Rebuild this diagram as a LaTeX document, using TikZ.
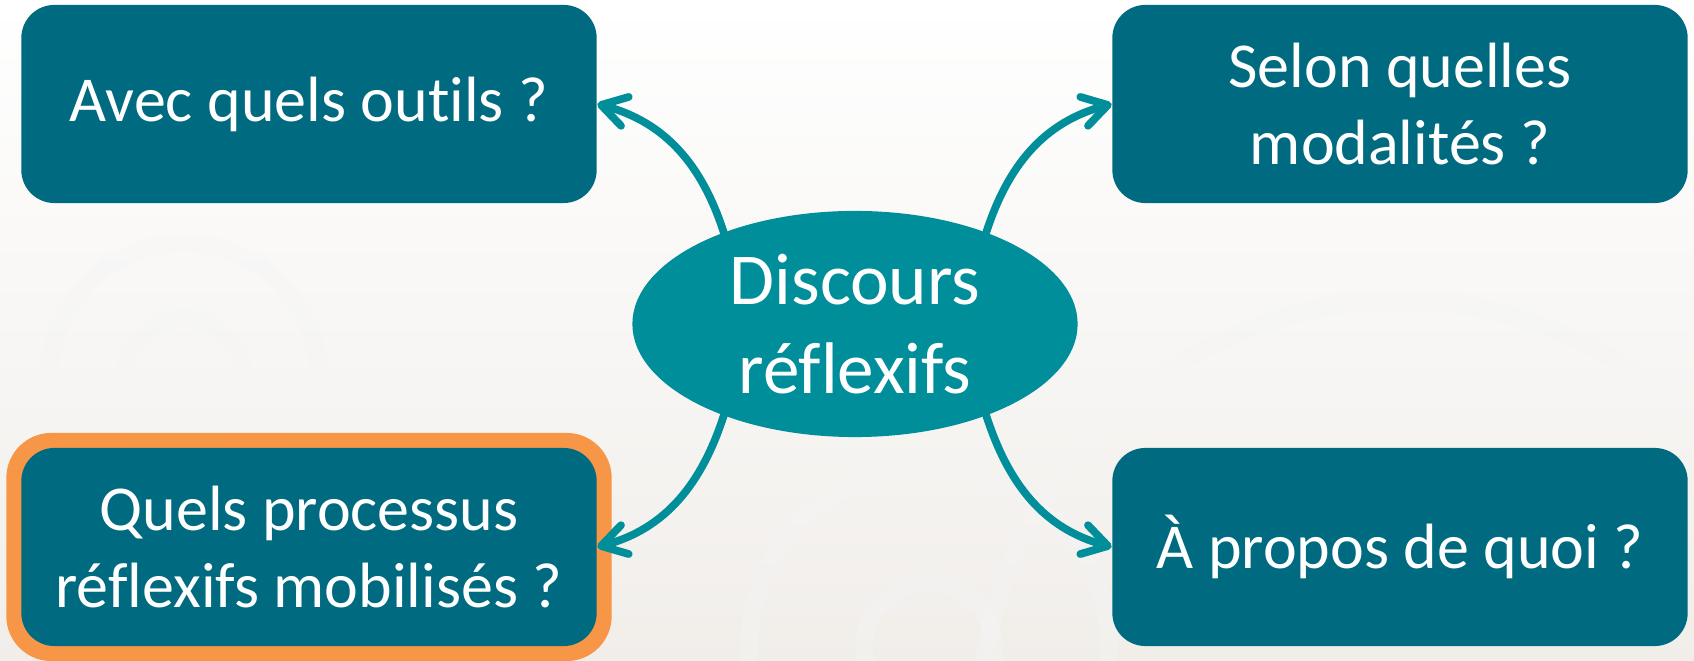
\documentclass[tikz,border=0pt]{standalone}
\usepackage{fontspec}
\setmainfont[Ligatures=NoCommon]{Carlito}
\usetikzlibrary{arrows.meta,shapes.geometric}
\definecolor{boxteal}{HTML}{006B80}
\definecolor{ovalteal}{HTML}{008E9B}
\definecolor{frameorange}{HTML}{F79646}
\definecolor{paper}{HTML}{F1EEEA}
\begin{document}
\begin{tikzpicture}[x=0.01cm, y=0.01cm, line join=round, line cap=round,
  >={Straight Barb[length=7pt,width=8.5pt,round]},
  question/.style={rectangle, rounded corners=0.33cm, fill=boxteal, text=white,
    minimum width=5.75cm, minimum height=1.98cm, inner sep=0pt, align=center,
    font=\fontsize{18.2}{21.9}\selectfont},
  topic/.style={ellipse, fill=ovalteal, text=white, minimum width=4.45cm,
    minimum height=2.26cm, inner sep=0pt, align=center,
    font=\fontsize{20.8}{25.3}\selectfont},
  frame/.style={rectangle, rounded corners=0.45cm, fill=frameorange,
    minimum width=6.05cm, minimum height=2.28cm},
  link/.style={->, draw=ovalteal, line width=2.2pt}]
\useasboundingbox (0,0) rectangle (1694,661);
% background
\shade[top color=white, bottom color=paper] (0,0) rectangle (1694,661);
\begin{scope}
\clip (0,0) rectangle (1694,661);
\foreach \cx/\cy/\r in {184/283/60, 184/283/135, 929/13/65, 929/13/180, 1400/-60/420}
  \draw[black!4, line width=5pt, opacity=.35] (\cx,\cy) circle (\r);
\end{scope}
% nodes
\node[topic] (disc) at (855,337) {Discours\\réflexifs};
\node[frame] at (309,114) {};
\node[question] (outils) at (309,557) {Avec quels outils ?};
\node[question] (modal) at (1400,557) {Selon quelles\\modalités ?};
\node[question] (proc) at (309,114) {Quels processus\\réflexifs mobilisés ?};
\node[question] (quoi) at (1400,114) {À propos de quoi ?};
% links
\draw[link] (disc.145) to[out=108, in=-15] (outils.east);
\draw[link] (disc.35) to[out=72, in=195] (modal.west);
\draw[link] (disc.215) to[out=252, in=15] (proc.east);
\draw[link] (disc.325) to[out=288, in=165] (quoi.west);
\end{tikzpicture}
\end{document}
